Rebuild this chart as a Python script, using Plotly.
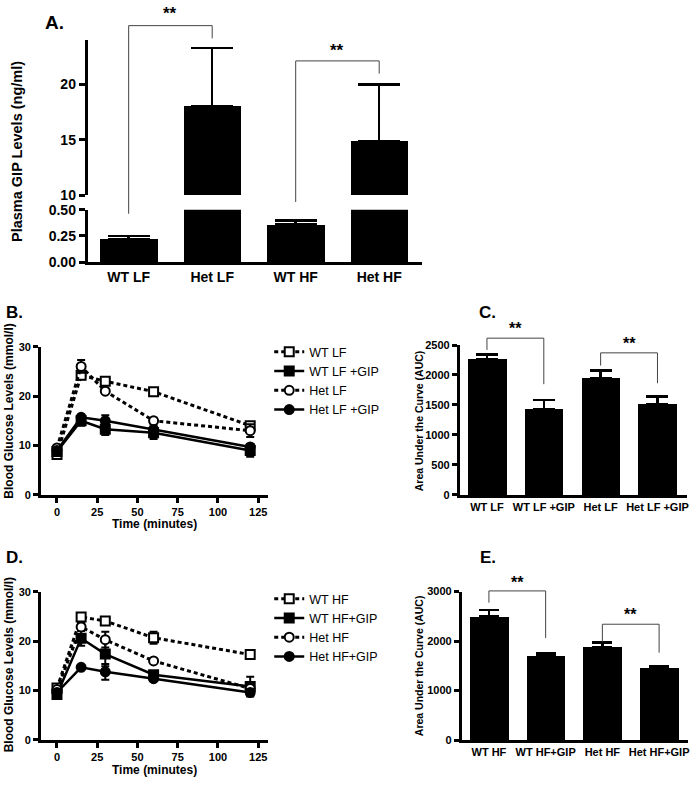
import plotly.graph_objects as go

W, H = 700, 788
FONT = "Arial, 'Liberation Sans', sans-serif"

# ---------------- data ----------------
# Panel A: plasma GIP (ng/ml)
a_groups = ["WT LF", "Het LF", "WT HF", "Het HF"]
a_gip = [0.22, 18.0, 0.36, 14.9]
a_gip_sem = [0.03, 5.3, 0.04, 5.1]

# Panels B / D: time course (minutes)
time_min = [0, 15, 30, 60, 120]

b_labels = ["WT LF", "WT LF +GIP", "Het LF", "Het LF +GIP"]
b_wt_lf = [8.2, 24.2, 23.0, 20.9, 14.0]
b_wt_lf_sem = [0.4, 0.8, 0.5, 0.5, 0.6]
b_wt_lf_gip = [8.8, 15.0, 13.3, 12.6, 9.0]
b_wt_lf_gip_sem = [0.4, 1.0, 1.2, 1.3, 1.3]
b_het_lf = [9.5, 26.0, 21.0, 15.0, 13.0]
b_het_lf_sem = [0.4, 1.3, 0.4, 0.6, 1.3]
b_het_lf_gip = [9.0, 15.7, 15.0, 13.2, 9.7]
b_het_lf_gip_sem = [0.4, 0.5, 1.1, 0.5, 0.6]

d_labels = ["WT HF", "WT HF+GIP", "Het HF", "Het HF+GIP"]
d_wt_hf = [10.5, 24.9, 24.1, 20.7, 17.3]
d_wt_hf_sem = [0.5, 0.5, 0.5, 1.2, 0.5]
d_wt_hf_gip = [9.2, 20.6, 17.4, 13.2, 10.8]
d_wt_hf_gip_sem = [0.4, 1.5, 2.5, 0.5, 2.0]
d_het_hf = [10.2, 22.9, 20.3, 16.0, 10.4]
d_het_hf_sem = [0.5, 0.8, 1.6, 0.4, 0.5]
d_het_hf_gip = [9.6, 14.7, 13.8, 12.4, 9.6]
d_het_hf_gip_sem = [0.4, 0.4, 1.6, 0.4, 0.6]

# Panel C / E: area under the curve
c_groups = ["WT LF", "WT LF +GIP", "Het LF", "Het LF +GIP"]
c_auc = [2260, 1433, 1944, 1520]
c_auc_sem = [80, 147, 131, 120]

e_groups = ["WT HF", "WT HF+GIP", "Het HF", "Het HF+GIP"]
e_auc = [2505, 1708, 1880, 1464]
e_auc_sem = [119, 39, 91, 32]

# ---------------- layout geometry (pixels) ----------------
def xd(p0, p1):
    return [p0 / W, p1 / W]

def yd(pbot, ptop):
    return [1 - pbot / H, 1 - ptop / H]

def lin(v, prange, drange):
    return prange[0] + (v - drange[0]) / (drange[1] - drange[0]) * (prange[1] - prange[0])

A_XPX, A_XR = (88, 423), (-0.49, 3.51)
C_XPX, C_XR = (461, 689), (-0.48, 3.52)
E_XPX, E_XR = (463, 690), (-0.48, 3.51)
T_XPX, T_XR = (41, 269), (-10, 131.2)


def axis(size, **kw):
    d = dict(showline=True, linecolor="black", linewidth=2.5, ticks="outside",
             ticklen=5, tickwidth=2.5, tickcolor="black", showgrid=False,
             zeroline=False, fixedrange=True,
             tickfont=dict(family=FONT, size=size, color="black", weight="bold"))
    d.update(kw)
    return d


fig = go.Figure()

# ---------- Panel A (broken axis) ----------
for yax in ["y", "y2"]:
    fig.add_trace(go.Bar(
        x=a_groups, y=a_gip, width=0.69, xaxis="x", yaxis=yax,
        marker=dict(color="black", line=dict(width=0)), showlegend=False,
        error_y=dict(type="data", symmetric=False, array=a_gip_sem,
                     arrayminus=[0] * len(a_gip), thickness=2.5, width=21, color="black"),
    ))

# ---------- Panels B and D (time courses) ----------
styles = [
    dict(dash="4px,3px", width=3, symbol="square", fill="white"),
    dict(dash="solid", width=2.5, symbol="square", fill="black"),
    dict(dash="4px,3px", width=3, symbol="circle", fill="white"),
    dict(dash="solid", width=2.5, symbol="circle", fill="black"),
]

b_series = [(b_wt_lf, b_wt_lf_sem), (b_wt_lf_gip, b_wt_lf_gip_sem),
            (b_het_lf, b_het_lf_sem), (b_het_lf_gip, b_het_lf_gip_sem)]
d_series = [(d_wt_hf, d_wt_hf_sem), (d_wt_hf_gip, d_wt_hf_gip_sem),
            (d_het_hf, d_het_hf_sem), (d_het_hf_gip, d_het_hf_gip_sem)]

for labels, series, xa, ya, leg in [(b_labels, b_series, "x2", "y3", "legend"),
                                    (d_labels, d_series, "x4", "y5", "legend2")]:
    for name, (vals, sem), st in zip(labels, series, styles):
        fig.add_trace(go.Scatter(
            x=time_min, y=vals, name=name, mode="lines+markers",
            xaxis=xa, yaxis=ya, legend=leg,
            line=dict(color="black", width=st["width"], dash=st["dash"]),
            marker=dict(symbol=st["symbol"], size=9, color=st["fill"],
                        line=dict(color="black", width=2)),
            error_y=dict(type="data", array=sem, thickness=2, width=4, color="black"),
        ))

# ---------- Panels C and E (AUC bars) ----------
for groups, vals, sem, xa, ya, cap in [(c_groups, c_auc, c_auc_sem, "x3", "y4", 11),
                                       (e_groups, e_auc, e_auc_sem, "x5", "y6", 10)]:
    fig.add_trace(go.Bar(
        x=groups, y=vals, width=0.68, xaxis=xa, yaxis=ya, showlegend=False,
        marker=dict(color="black", line=dict(width=0)),
        error_y=dict(type="data", symmetric=False, array=sem,
                     arrayminus=[0] * len(vals), thickness=2.5, width=cap, color="black"),
    ))

# ---------------- axes ----------------
layout_axes = dict(
    # A
    xaxis=axis(14, domain=xd(*A_XPX), range=list(A_XR), anchor="y", ticks="",
               linewidth=3, categoryorder="array", categoryarray=a_groups),
    yaxis=axis(14, domain=yd(259.3, 206), range=[0, 0.5], anchor="x",
               tickvals=[0, 0.25, 0.5], tickformat=".2f", linewidth=3,
               ticklen=6, tickwidth=3),
    yaxis2=axis(14, domain=yd(191, 33), range=[10, 24], anchor="x",
                tickvals=[10, 15, 20], linewidth=3, ticklen=6, tickwidth=3),
    # B
    xaxis2=axis(11, domain=xd(*T_XPX), range=list(T_XR), anchor="y3",
                tickvals=[0, 25, 50, 75, 100, 125]),
    yaxis3=axis(11, domain=yd(497, 345.7), range=[0, 30], anchor="x2",
                tickvals=[0, 10, 20, 30]),
    # C
    xaxis3=axis(11, domain=xd(*C_XPX), range=list(C_XR), anchor="y4", ticks="",
                categoryorder="array", categoryarray=c_groups),
    yaxis4=axis(11, domain=yd(497, 344), range=[0, 2500], anchor="x3",
                tickvals=[0, 500, 1000, 1500, 2000, 2500]),
    # D
    xaxis4=axis(11, domain=xd(*T_XPX), range=list(T_XR), anchor="y5",
                tickvals=[0, 25, 50, 75, 100, 125]),
    yaxis5=axis(11, domain=yd(747, 596), range=[0, 30], anchor="x4",
                tickvals=[0, 10, 20, 30]),
    # E
    xaxis5=axis(11, domain=xd(*E_XPX), range=list(E_XR), anchor="y6", ticks="",
                categoryorder="array", categoryarray=e_groups),
    yaxis6=axis(11, domain=yd(747.3, 595.7), range=[0, 3000], anchor="x5",
                tickvals=[0, 1000, 2000, 3000]),
)

# ---------------- annotations ----------------
ann = []

def text(s, xpx, ypx, size, bold=True, angle=0, xanchor="center", yanchor="middle"):
    ann.append(dict(text=s, x=xpx / W, y=1 - ypx / H, xref="paper", yref="paper",
                    showarrow=False, textangle=angle, xanchor=xanchor, yanchor=yanchor,
                    font=dict(family=FONT, size=size, color="black",
                              weight="bold" if bold else "normal")))

text("A.", 43, 15, 19, xanchor="left")
text("B.", 4, 311, 17, xanchor="left")
text("C.", 478, 311, 17, xanchor="left")
text("D.", 4, 561, 17, xanchor="left")
text("E.", 479, 561, 17, xanchor="left")

text("Plasma GIP Levels (ng/ml)", 17, 146, 14.5, angle=-90)
text("Blood Glucose Levels (mmol/l)", 9, 411, 12, angle=-90)
text("Blood Glucose Levels (mmol/l)", 9, 670, 12, angle=-90)
text("Area Under the Curve (AUC)", 421, 421, 10.5, angle=-90)
text("Area Under the Curve (AUC)", 421, 671, 10.5, angle=-90)
text("Time (minutes)", 155, 527, 12)
text("Time (minutes)", 155, 778, 12)

# significance brackets:
# (axis px, axis range, left index, right index, top y, left leg end y, right leg end y,
#  star centre y, star font size)
shapes = []
brackets = [
    (A_XPX, A_XR, 0, 1, 18, 210, 31, 6, 17),
    (A_XPX, A_XR, 2, 3, 54, 198, 67, 43, 17),
    (C_XPX, C_XR, 0, 1, 337, 349, 384, 327, 16),
    (C_XPX, C_XR, 2, 3, 352, 365, 383, 342, 16),
    (E_XPX, E_XR, 0, 1, 595, 607, 643, 586, 16),
    (E_XPX, E_XR, 2, 3, 629, 647, 658, 619, 16),
]
for pr, dr, i0, i1, yt, yl, yr, ys, fs in brackets:
    x0 = lin(i0, pr, dr)
    x1 = lin(i1, pr, dr)
    for (xa, ya, xb, yb) in [(x0, yl, x0, yt), (x0, yt, x1, yt), (x1, yt, x1, yr)]:
        shapes.append(dict(type="line", xref="paper", yref="paper",
                           x0=xa / W, y0=1 - ya / H, x1=xb / W, y1=1 - yb / H,
                           line=dict(color="#444444", width=1)))
    text("**", (x0 + x1) / 2, ys, fs)

legend_style = dict(xanchor="left", yanchor="top", bgcolor="rgba(0,0,0,0)",
                    borderwidth=0, itemwidth=30, tracegroupgap=0,
                    font=dict(family=FONT, size=12.5, color="black"))

fig.update_layout(
    width=W, height=H, autosize=False,
    margin=dict(l=0, r=0, t=0, b=0),
    paper_bgcolor="white", plot_bgcolor="white",
    bargap=0, showlegend=True,
    legend=dict(x=270 / W, y=1 - 336 / H, **legend_style),
    legend2=dict(x=270 / W, y=1 - 588 / H, **legend_style),
    annotations=ann, shapes=shapes,
    **layout_axes,
)

fig.write_html("out.html", config={"displayModeBar": False},
               post_script="document.body.style.margin='0';document.body.style.overflow='hidden';")
